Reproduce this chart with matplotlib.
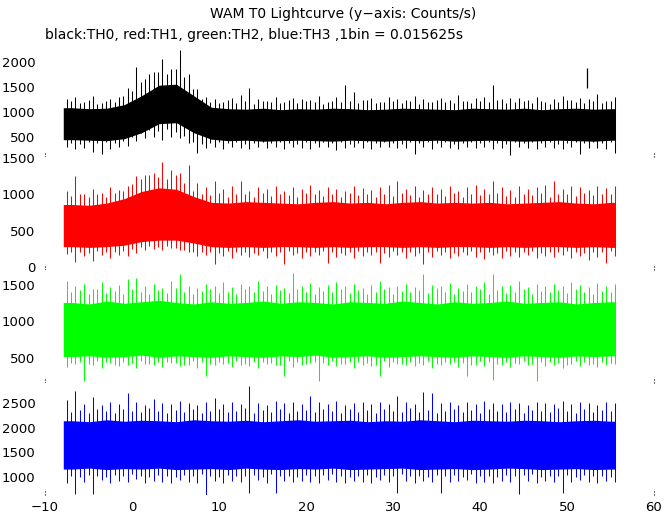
import numpy as np
import matplotlib
matplotlib.use("Agg")
import matplotlib.pyplot as plt

# ---- data (counts/s) ----
# solid band of each curve, one value per 2 s bin (bins start at -8 s)
th0_core_hi = [1080, 1060, 1070, 1140, 1320, 1530, 1550, 1320, 1090, 1060, 1050, 1070, 1040, 1060, 1050, 1070,
               1060, 1040, 1050, 1070, 1060, 1050, 1040, 1070, 1060, 1050, 1070, 1040, 1060, 1070, 1050, 1060]
th0_core_lo = [440, 430, 420, 460, 580, 760, 780, 580, 450, 420, 430, 410, 420, 430, 420, 410,
               430, 420, 410, 430, 420, 430, 410, 420, 430, 420, 410, 420, 430, 420, 410, 430]
th1_core_hi = [860, 850, 880, 940, 1040, 1090, 1070, 970, 890, 880, 900, 890, 880, 870, 890, 900,
               880, 890, 870, 890, 900, 880, 890, 880, 890, 870, 880, 890, 900, 880, 870, 890]
th1_core_lo = [280, 270, 280, 300, 350, 370, 370, 330, 280, 270, 280, 270, 280, 280, 270, 280,
               270, 280, 280, 270, 280, 270, 280, 280, 270, 280, 270, 280, 280, 270, 280, 270]
th2_core_hi = [1260, 1240, 1280, 1250, 1270, 1290, 1260, 1240, 1270, 1250, 1260, 1280, 1250, 1270, 1260, 1240,
               1270, 1260, 1250, 1280, 1260, 1240, 1270, 1250, 1260, 1280, 1250, 1260, 1270, 1240, 1260, 1270]
th2_core_lo = [520, 530, 510, 520, 540, 510, 530, 520, 510, 530, 520, 510, 530, 520, 540, 510,
               520, 530, 510, 520, 530, 520, 510, 530, 520, 510, 530, 520, 510, 530, 520, 530]
th3_core_hi = [2140, 2120, 2160, 2130, 2150, 2140, 2120, 2160, 2140, 2130, 2150, 2120, 2140, 2160, 2130, 2140,
               2150, 2120, 2140, 2130, 2160, 2140, 2120, 2150, 2140, 2130, 2150, 2140, 2120, 2140, 2150, 2130]
th3_core_lo = [1160, 1180, 1150, 1170, 1160, 1180, 1150, 1160, 1170, 1150, 1180, 1160, 1150, 1170, 1160, 1180,
               1150, 1160, 1170, 1180, 1150, 1160, 1170, 1150, 1160, 1180, 1170, 1150, 1160, 1170, 1150, 1160]

# highest / lowest bin in every 1 s (centres -7.5 ... 55.5 s)
th0_max = [1250, 1300, 1200, 1320, 1180, 1250, 1300, 1480, 1900, 1650, 1800, 2050, 1850, 2230, 1750, 1450,
           1300, 1250, 1200, 1280, 1330, 1480, 1250, 1220, 1300, 1200, 1280, 1250, 1230, 1320, 1190, 1300,
           1530, 1400, 1230, 1280, 1200, 1300, 1260, 1230, 1310, 1250, 1200, 1280, 1240, 1330, 1220, 1270,
           1300, 1530, 1260, 1280, 1280, 1240, 1300, 1200, 1260, 1320, 1230, 1280, 1250, 1350, 1220, 1300]
th0_min = [300, 250, 280, 200, 160, 260, 300, 320, 420, 480, 500, 440, 500, 470, 380, 180,
           280, 300, 260, 300, 280, 250, 300, 270, 290, 250, 300, 280, 260, 300, 290, 240,
           280, 300, 270, 250, 290, 300, 270, 280, 150, 290, 260, 300, 280, 250, 290, 270,
           300, 260, 280, 140, 290, 270, 250, 300, 280, 260, 290, 160, 270, 280, 250, 180]
th1_max = [1050, 1250, 1000, 1080, 1020, 1100, 1060, 1120, 1250, 1260, 1300, 1440, 1340, 1300, 1400, 1150,
           1100, 1190, 1080, 1120, 1180, 1050, 1100, 1080, 1120, 1040, 1100, 1070, 1130, 1060, 1100, 1080,
           1050, 1120, 1090, 1060, 1100, 1130, 1190, 1080, 1120, 1060, 1100, 1080, 1120, 1050, 1100, 1130,
           1070, 1190, 1100, 1060, 1120, 1080, 1100, 1130, 1190, 1070, 1110, 1100, 1060, 1120, 1090, 1120]
th1_min = [180, 70, 150, 80, 160, 130, 170, 150, 190, 230, 250, 240, 260, 230, 200, 150,
           170, 40, 150, 130, 170, 140, 160, 120, 150, 40, 160, 130, 150, 170, 50, 140,
           160, 130, 150, 170, 50, 140, 160, 130, 150, 40, 140, 160, 130, 150, 170, 140,
           110, 160, 130, 150, 140, 170, 120, 150, 140, 160, 130, 150, 100, 140, 60, 150]
th2_max = [1560, 1480, 1520, 1450, 1540, 1470, 1500, 1580, 1600, 1480, 1520, 1460, 1550, 1650, 1490, 1460,
           1520, 1480, 1540, 1470, 1510, 1490, 1560, 1480, 1500, 1460, 1660, 1490, 1530, 1470, 1500, 1540,
           1480, 1520, 1460, 1500, 1550, 1470, 1490, 1520, 1470, 1650, 1500, 1480, 1530, 1460, 1510, 1490,
           1540, 1650, 1480, 1500, 1560, 1470, 1520, 1490, 1510, 1480, 1540, 1500, 1470, 1530, 1490, 1510]
th2_min = [380, 420, 180, 400, 360, 430, 390, 410, 370, 420, 400, 380, 430, 390, 410, 360,
           250, 400, 420, 380, 410, 390, 360, 420, 400, 250, 380, 410, 430, 180, 400, 390,
           420, 370, 410, 390, 250, 380, 420, 400, 390, 410, 370, 400, 420, 380, 250, 410,
           390, 200, 400, 380, 420, 410, 180, 390, 400, 370, 420, 390, 410, 380, 400, 420]
th3_max = [2560, 2750, 2480, 2620, 2450, 2530, 2470, 2700, 2520, 2460, 2580, 2500, 2470, 2550, 2490, 2450,
           2530, 2600, 2480, 2520, 2470, 2840, 2500, 2460, 2540, 2490, 2510, 2470, 2650, 2520, 2480, 2550,
           2460, 2500, 2530, 2470, 2520, 2480, 2650, 2510, 2470, 2720, 2700, 2490, 2530, 2460, 2510, 2480,
           2540, 2500, 2470, 2520, 2490, 2460, 2530, 2500, 2480, 2540, 2470, 2510, 2490, 2460, 2520, 2500]
th3_min = [880, 650, 900, 660, 940, 880, 920, 900, 950, 870, 920, 900, 880, 940, 900, 870,
           640, 910, 880, 920, 900, 670, 930, 880, 680, 910, 890, 920, 900, 880, 940, 900,
           870, 920, 900, 880, 930, 890, 670, 910, 880, 920, 900, 680, 890, 910, 930, 880,
           900, 870, 920, 890, 650, 910, 880, 920, 900, 670, 890, 930, 900, 880, 920, 900]

# second-highest / second-lowest spikes, at whole seconds -7 ... 55 s
th0_max2 = [1210, 1180, 1240, 1160, 1220, 1190,
            1310, 1420, 1600, 1750, 1800, 1760, 1850, 1700, 1450, 1260,
            1200, 1170, 1230, 1180, 1210, 1160, 1220, 1190, 1180, 1230, 1170, 1210, 1200, 1160, 1220, 1190,
            1210, 1180, 1230, 1170, 1200, 1220, 1180, 1210, 1160, 1190, 1230, 1200, 1170, 1220, 1180, 1210,
            1190, 1230, 1170, 1200, 1220, 1180, 1210, 1160, 1190, 1230, 1200, 1180, 1220, 1170, 1210]
th0_min2 = [380, 360, 400, 370, 390, 380,
            420, 500, 580, 640, 620, 650, 600, 520, 400, 360,
            380, 400, 370, 390, 360, 380, 400, 370, 390, 380, 360, 400, 370, 390, 380, 400,
            360, 380, 390, 370, 400, 380, 360, 390, 370, 400, 380, 390, 360, 380, 400, 370,
            390, 380, 360, 400, 370, 390, 380, 400, 360, 380, 390, 370, 400, 380, 390]
th1_max2 = [980, 1010, 960, 1000, 970, 1020,
            1040, 1140, 1210, 1260, 1240, 1210, 1260, 1160, 1050, 1010,
            990, 1020, 970, 1010, 1000, 960, 1020, 980, 1010, 990, 970, 1020, 1000, 980, 1010, 960,
            1020, 990, 1000, 970, 1010, 980, 1020, 990, 960, 1010, 1000, 980, 1020, 970, 1010, 990,
            1000, 1020, 980, 960, 1010, 990, 1020, 970, 1000, 1010, 980, 1020, 990, 1000, 1010]
th1_min2 = [200, 210, 190, 220, 200, 210,
            220, 250, 280, 290, 270, 290, 260, 240, 210, 200,
            210, 190, 220, 200, 210, 190, 220, 200, 210, 220, 190, 200, 210, 220, 200, 190,
            210, 220, 200, 210, 190, 220, 200, 210, 190, 200, 220, 210, 190, 200, 220, 210,
            200, 190, 220, 210, 200, 220, 190, 210, 200, 220, 210, 190, 200, 210, 220]
th2_max2 = [1400, 1430, 1380, 1450, 1390, 1420, 1370, 1440, 1410, 1380,
            1430, 1390, 1460, 1400, 1370, 1420, 1440, 1390, 1410, 1380,
            1450, 1400, 1420, 1370, 1430, 1390, 1440, 1410, 1380, 1420,
            1400, 1450, 1390, 1430, 1370, 1410, 1440, 1380, 1420, 1400,
            1430, 1390, 1460, 1410, 1380, 1420, 1400, 1440, 1370, 1430,
            1390, 1410, 1450, 1380, 1420, 1400, 1430, 1390, 1440, 1410,
            1380, 1420, 1400]
th2_min2 = [430, 450, 420, 460, 440, 410, 450, 430, 460, 420,
            440, 450, 430, 410, 460, 440, 420, 450, 430, 460,
            420, 440, 450, 430, 410, 460, 440, 420, 450, 430,
            460, 420, 440, 450, 430, 410, 460, 440, 420, 450,
            430, 460, 420, 440, 450, 430, 410, 460, 440, 420,
            450, 430, 460, 420, 440, 450, 430, 410, 460, 440,
            420, 450, 430]
th3_max2 = [2320, 2360, 2290, 2380, 2330, 2300, 2370, 2340, 2310, 2390,
            2330, 2290, 2360, 2320, 2380, 2300, 2340, 2370, 2310, 2330,
            2390, 2300, 2350, 2320, 2380, 2290, 2340, 2360, 2310, 2370,
            2330, 2300, 2380, 2320, 2350, 2290, 2370, 2340, 2310, 2390,
            2320, 2360, 2300, 2330, 2380, 2310, 2350, 2290, 2370, 2340,
            2320, 2380, 2300, 2360, 2330, 2310, 2390, 2340, 2300, 2370,
            2320, 2350, 2330]
th3_min2 = [1030, 1000, 1050, 1020, 990, 1040, 1010, 1060, 1020, 1000,
            1050, 1030, 990, 1040, 1010, 1060, 1020, 1000, 1050, 1030,
            1010, 1040, 990, 1060, 1020, 1030, 1000, 1050, 1010, 1040,
            1060, 1020, 990, 1030, 1050, 1000, 1040, 1010, 1060, 1020,
            1030, 990, 1050, 1010, 1040, 1000, 1060, 1020, 1030, 990,
            1050, 1010, 1040, 1060, 1000, 1020, 1030, 1050, 990, 1040,
            1010, 1030, 1000]

# isolated segment in TH0 near t = 52.3 s
th0_glitch_t = [52.3]
th0_glitch_lo = [1480]
th0_glitch_hi = [1870]

panels = [
    ("black", th0_core_lo, th0_core_hi, th0_min, th0_max, th0_min2, th0_max2, (94, 2294), [500, 1000, 1500, 2000]),
    ("red", th1_core_lo, th1_core_hi, th1_min, th1_max, th1_min2, th1_max2, (-41, 1514), [0, 500, 1000, 1500]),
    ("#00ff00", th2_core_lo, th2_core_hi, th2_min, th2_max, th2_min2, th2_max2, (158, 1705), [500, 1000, 1500]),
    ("blue", th3_core_lo, th3_core_hi, th3_min, th3_max, th3_min2, th3_max2, (635, 2905), [1000, 1500, 2000, 2500]),
]
# colour of the faint dotted row along the lower edge of each panel
edge_dots = ["black", "#006400", "#000080", None]

# bin centres of the 2 s core, padded to the data start/end
t_core = np.concatenate([[-7.9], np.arange(-6.9, 56, 2), [55.5]])
t_sec = np.arange(-7.5, 55.6, 1.0)
t_sec2 = np.arange(-7.0, 55.1, 1.0)

W, H = 672, 515
fig = plt.figure(figsize=(W / 100, H / 100), dpi=100)
plt.rcParams['font.family'] = 'DejaVu Sans'

# panel edges in pixels from the top
edges = [47, 157, 270, 383, 495]
left = 45 / W
right = 654 / W

for i, (col, clo, chi, vmin, vmax, vmin2, vmax2, ylim, yt) in enumerate(panels):
    top = 1 - edges[i] / H
    bot = 1 - edges[i + 1] / H
    ax = fig.add_axes([left, bot, right - left, top - bot])
    lo = np.concatenate([[clo[0]], clo, [clo[-1]]])
    hi = np.concatenate([[chi[0]], chi, [chi[-1]]])
    ax.fill_between(t_core, lo, hi, color=col, linewidth=0)
    ax.vlines(t_sec2, vmin2, vmax2, color=col, linewidth=0.75)
    ax.vlines(t_sec, vmin, vmax, color=col, linewidth=0.75)
    if i == 0:
        ax.vlines(th0_glitch_t, th0_glitch_lo, th0_glitch_hi, color=col, linewidth=0.9)
    ax.set_xlim(-10, 60)
    ax.set_ylim(*ylim)
    ax.set_yticks(yt)
    ax.tick_params(axis='y', length=0, pad=7, labelsize=9.5)
    for s in ax.spines.values():
        s.set_visible(False)
    # sparse dotted row on the lower edge and small corner marks of the frame
    if edge_dots[i]:
        ax.axhline(ylim[0], xmin=0.03, xmax=0.89, color=edge_dots[i], lw=0.6,
                   ls=(0, (1, 9)), clip_on=False)
    for xe in (-10, 60):
        ax.plot([xe, xe], [ylim[0], ylim[0] + 0.05 * (ylim[1] - ylim[0])], ls=':', color='k',
                lw=0.8, clip_on=False)
    if i < 3:
        ax.set_xticks([])
    else:
        ax.set_xticks(range(-10, 61, 10))
        ax.tick_params(axis='x', length=0, pad=4, labelsize=9.5)

fig.text(343 / W, 1 - 14 / H, "WAM T0 Lightcurve (y\u2212axis: Counts/s)", ha='center', va='center',
         fontsize=10)
fig.text(45 / W, 1 - 35 / H, "black:TH0, red:TH1, green:TH2, blue:TH3 ,1bin = 0.015625s",
         ha='left', va='center', fontsize=10)

fig.savefig("out.png", dpi=100)
